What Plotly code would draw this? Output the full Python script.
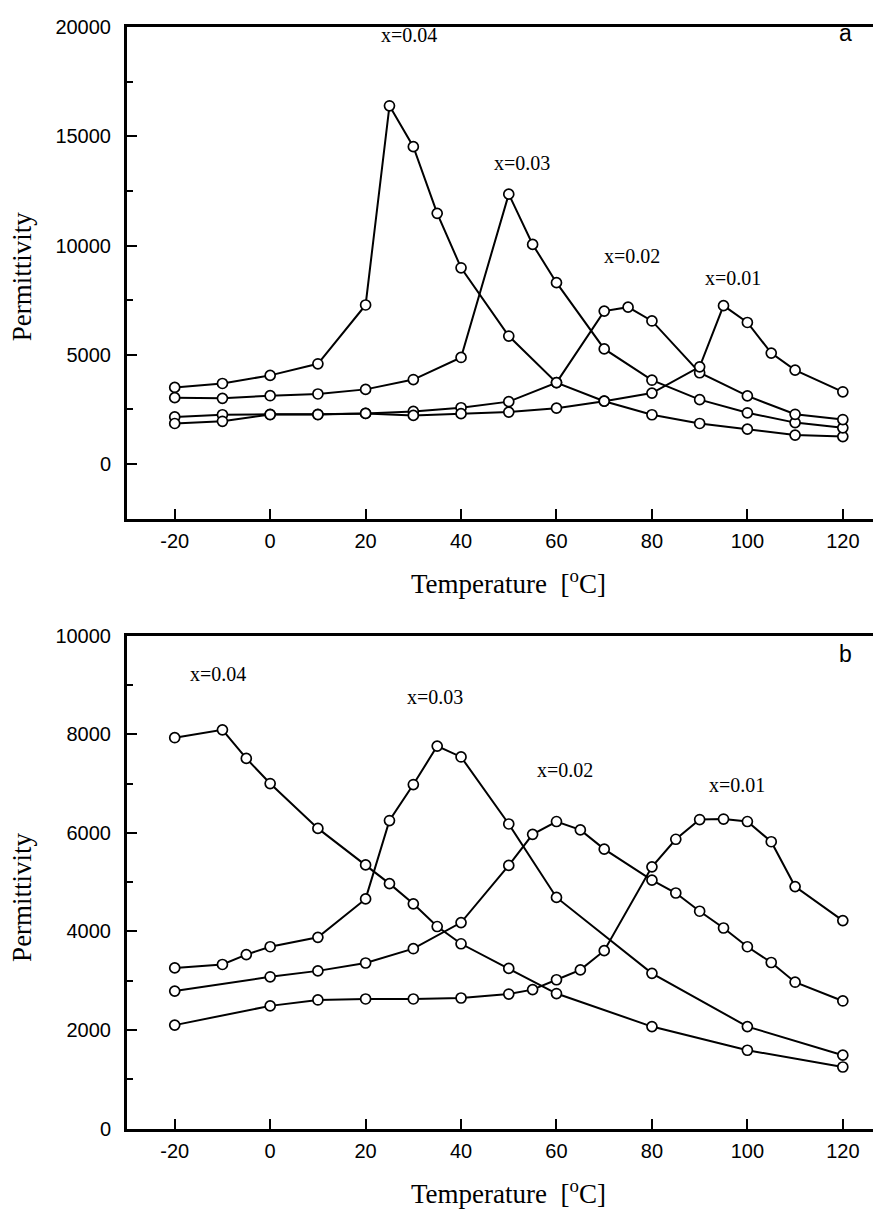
import plotly.graph_objects as go

# ---------------- data ----------------
# Panel a
T04a = [-20, -10, 0, 10, 20, 25, 30, 35, 40, 50, 60, 70, 80, 90, 100, 110, 120]
P04a = [3510, 3690, 4060, 4590, 7280, 16390, 14520, 11470, 8980, 5860, 3730, 2880, 2260, 1860, 1600, 1330, 1260]
T03a = [-20, -10, 0, 10, 20, 30, 40, 50, 55, 60, 70, 80, 90, 100, 110, 120]
P03a = [3040, 3010, 3130, 3210, 3420, 3870, 4880, 12350, 10050, 8300, 5270, 3840, 2950, 2350, 1900, 1660]
T02a = [-20, -10, 0, 10, 20, 30, 40, 50, 60, 70, 75, 80, 90, 100, 110, 120]
P02a = [2160, 2260, 2280, 2280, 2320, 2410, 2580, 2860, 3730, 7000, 7180, 6550, 4180, 3120, 2280, 2040]
T01a = [-20, -10, 0, 10, 20, 30, 40, 50, 60, 70, 80, 90, 95, 100, 105, 110, 120]
P01a = [1860, 1960, 2270, 2270, 2320, 2230, 2310, 2380, 2560, 2880, 3250, 4450, 7250, 6480, 5080, 4300, 3310]

# Panel b
T04b = [-20, -10, -5, 0, 10, 20, 25, 30, 35, 40, 50, 60, 80, 100, 120]
P04b = [7930, 8090, 7510, 7000, 6090, 5350, 4970, 4560, 4100, 3750, 3250, 2740, 2070, 1590, 1250]
T03b = [-20, -10, -5, 0, 10, 20, 25, 30, 35, 40, 50, 60, 80, 100, 120]
P03b = [3260, 3330, 3530, 3690, 3880, 4660, 6250, 6980, 7760, 7540, 6180, 4690, 3150, 2070, 1490]
T02b = [-20, 0, 10, 20, 30, 40, 50, 55, 60, 65, 70, 80, 85, 90, 95, 100, 105, 110, 120]
P02b = [2790, 3080, 3200, 3360, 3650, 4180, 5340, 5970, 6230, 6060, 5670, 5040, 4780, 4410, 4070, 3690, 3370, 2970, 2590]
T01b = [-20, 0, 10, 20, 30, 40, 50, 55, 60, 65, 70, 80, 85, 90, 95, 100, 105, 110, 120]
P01b = [2100, 2490, 2610, 2630, 2630, 2650, 2730, 2820, 3020, 3220, 3610, 5310, 5870, 6270, 6280, 6230, 5820, 4910, 4220]

x_tickvals = [-20, 0, 20, 40, 60, 80, 100, 120]
x_ticktext = ["-20", "0", "20", "40", "60", "80", "100", "120"]
ya_tickvals = [0, 5000, 10000, 15000, 20000]
ya_ticktext = ["0", "5000", "10000", "15000", "20000"]
yb_tickvals = [0, 2000, 4000, 6000, 8000, 10000]
yb_ticktext = ["0", "2000", "4000", "6000", "8000", "10000"]

series_labels = ["x=0.04", "x=0.03", "x=0.02", "x=0.01"]
label_pos_a = [(29.0, 19650), (52.7, 13770), (75.8, 9500), (96.9, 8500)]
label_pos_b = [(-11.0, 9220), (34.5, 8750), (61.8, 7270), (97.8, 6980)]

x_title = "Temperature  [<sup>o</sup>C]"
y_title = "Permittivity"

# ---------------- layout geometry ----------------
OFF = 8                      # default page margin of the html body
W, H = 881 - OFF, 1228 - OFF
ML = 127 - OFF
PW = W - ML


def px2x(px):
    return (px - OFF - ML) / PW


def py2y(py):
    return 1 - (py - OFF) / H


fig = go.Figure()

panels = [
    ("x", "y", [(T04a, P04a), (T03a, P03a), (T02a, P02a), (T01a, P01a)]),
    ("x2", "y2", [(T04b, P04b), (T03b, P03b), (T02b, P02b), (T01b, P01b)]),
]

for xa, ya, ser in panels:
    for T, P in ser:
        fig.add_trace(go.Scatter(x=T, y=P, mode="lines", xaxis=xa, yaxis=ya,
                                 line=dict(color="black", width=2),
                                 showlegend=False, hoverinfo="skip"))
    for T, P in ser:
        fig.add_trace(go.Scatter(x=T, y=P, mode="markers", xaxis=xa, yaxis=ya,
                                 marker=dict(symbol="circle", size=10, color="white",
                                             line=dict(color="black", width=1.7)),
                                 showlegend=False))

sans = "Liberation Sans, Arial, sans-serif"
serif = "Liberation Serif, Times New Roman, serif"
tickfont = dict(family=sans, size=20, color="black")

xcommon = dict(range=[-30, 128], showline=True, linewidth=3, linecolor="black",
               mirror=True, ticks="inside", ticklen=10, tickwidth=2, tickcolor="black",
               tickmode="array", tickvals=x_tickvals, ticktext=x_ticktext,
               showgrid=False, zeroline=False, tickfont=tickfont, ticklabelstandoff=2)
ycommon = dict(showline=True, linewidth=3, linecolor="black", mirror=False,
               ticks="inside", ticklen=10, tickwidth=2, tickcolor="black",
               tickmode="array", showgrid=False, zeroline=False, tickfont=tickfont,
               ticklabelstandoff=9)

fig.update_layout(
    width=W, height=H,
    margin=dict(l=ML, r=0, t=0, b=0),
    paper_bgcolor="white", plot_bgcolor="white",
    xaxis=dict(domain=[0, 1], anchor="y", **xcommon),
    yaxis=dict(domain=[py2y(517), py2y(16)], anchor="x", range=[-2500, 20000],
               tickvals=ya_tickvals, ticktext=ya_ticktext,
               minor=dict(tickmode="linear", dtick=2500, tick0=0, ticks="inside",
                          ticklen=6, tickwidth=2, tickcolor="black"),
               **ycommon),
    xaxis2=dict(domain=[0, 1], anchor="y2", **xcommon),
    yaxis2=dict(domain=[py2y(1138), py2y(636)], anchor="x2", range=[0, 10000],
                tickvals=yb_tickvals, ticktext=yb_ticktext,
                minor=dict(tickmode="linear", dtick=1000, tick0=0, ticks="inside",
                           ticklen=6, tickwidth=2, tickcolor="black"),
                **ycommon),
)

ann = []
for (lx, ly), t in zip(label_pos_a, series_labels):
    ann.append(dict(x=lx, y=ly, xref="x", yref="y", text=t, showarrow=False,
                    font=dict(family=serif, size=20, color="black")))
for (lx, ly), t in zip(label_pos_b, series_labels):
    ann.append(dict(x=lx, y=ly, xref="x2", yref="y2", text=t, showarrow=False,
                    font=dict(family=serif, size=20, color="black")))

ann.append(dict(x=120.5, y=19700, xref="x", yref="y", text="a", showarrow=False,
                font=dict(family=sans, size=23, color="black")))
ann.append(dict(x=120.5, y=9620, xref="x2", yref="y2", text="b", showarrow=False,
                font=dict(family=sans, size=23, color="black")))

for py in (581, 1203):
    ann.append(dict(x=px2x(509), y=py2y(py), xref="paper", yref="paper", text=x_title,
                    showarrow=False, xanchor="center", yanchor="middle",
                    font=dict(family=serif, size=27, color="black")))
for py in (270, 902):
    ann.append(dict(x=px2x(22), y=py2y(py), xref="paper", yref="paper", text=y_title,
                    showarrow=False, xanchor="center", yanchor="middle", textangle=-90,
                    font=dict(family=serif, size=27, color="black")))

fig.update_layout(annotations=ann)

fig.write_html("out.html")
